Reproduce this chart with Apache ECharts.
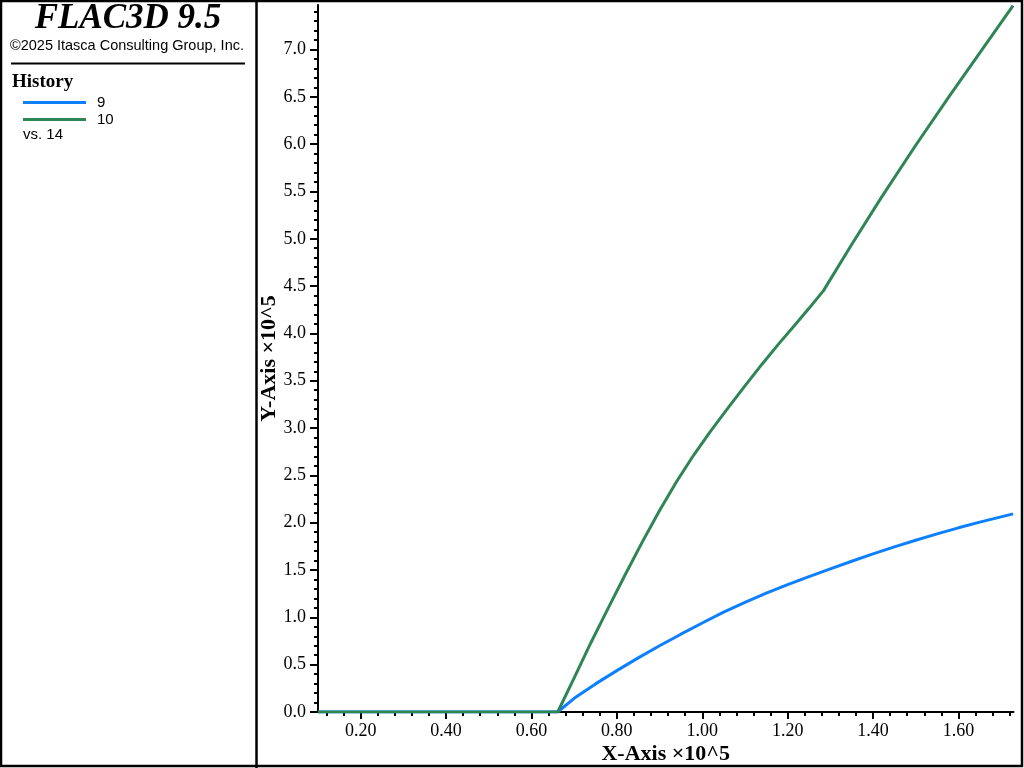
<!DOCTYPE html>
<html>
<head>
<meta charset="utf-8">
<script src="https://cdn.jsdelivr.net/npm/echarts@6/dist/echarts.min.js"></script>
<style>html,body{margin:0;padding:0;background:#fff;}#c{width:1024px;height:768px;}</style>
</head>
<body>
<div id="c"></div>
<script>
// ---- data (x in units of 1e5, y in units of 1e5) ----
const seriesNames = ['9', '10'];
const xHist9  = [0.10, 0.6615, 0.70, 0.75, 0.80, 0.85, 0.90, 0.95, 1.00, 1.05, 1.10, 1.15, 1.20, 1.25, 1.30, 1.35, 1.40, 1.45, 1.50, 1.55, 1.60, 1.65, 1.70, 1.728];
const yHist9  = [0.00, 0.00, 0.145, 0.297, 0.437, 0.572, 0.70, 0.822, 0.94, 1.055, 1.158, 1.255, 1.345, 1.431, 1.513, 1.593, 1.670, 1.745, 1.815, 1.882, 1.946, 2.006, 2.062, 2.093];
const xHist10 = [0.10, 0.6615, 0.70, 0.74, 0.78, 0.82, 0.86, 0.90, 0.94, 0.98, 1.02, 1.06, 1.10, 1.14, 1.18, 1.22, 1.25, 1.284, 1.35, 1.42, 1.50, 1.58, 1.65, 1.728];
const yHist10 = [0.00, 0.00, 0.36, 0.74, 1.10, 1.455, 1.80, 2.13, 2.435, 2.715, 2.97, 3.21, 3.445, 3.675, 3.895, 4.105, 4.265, 4.452, 4.94, 5.44, 5.988, 6.516, 6.964, 7.463];
const xMajorTicks = [0.2, 0.4, 0.6, 0.8, 1.0, 1.2, 1.4, 1.6];
const xTickLabels = ['0.20', '0.40', '0.60', '0.80', '1.00', '1.20', '1.40', '1.60'];
const yMajorTicks = [0, 0.5, 1, 1.5, 2, 2.5, 3, 3.5, 4, 4.5, 5, 5.5, 6, 6.5, 7];
const yTickLabels = ['0.0','0.5','1.0','1.5','2.0','2.5','3.0','3.5','4.0','4.5','5.0','5.5','6.0','6.5','7.0'];
const xMin = 0.1, xMax = 1.729, yMin = 0, yMax = 7.47;

const xMinorTicks = [];
for (let k = 3; k <= 43; k++) { const v = +(k * 0.04).toFixed(2); if (v > xMin && v < xMax && Math.abs(v / 0.2 - Math.round(v / 0.2)) > 1e-6) xMinorTicks.push(v); }
const yMinorTicks = [];
for (let k = 1; k <= 74; k++) { const v = +(k * 0.1).toFixed(1); if (v < yMax && Math.abs(v / 0.5 - Math.round(v / 0.5)) > 1e-6) yMinorTicks.push(v); }

const zip = (xs, ys) => xs.map((x, i) => [x, ys[i]]);
const serif = 'Liberation Serif';
const sans = 'Liberation Sans';

const chart = echarts.init(document.getElementById('c'), null, {renderer: 'canvas'});
chart.setOption({
  animation: false,
  backgroundColor: '#fff',
  grid: {left: 318, right: 10.5, top: 5, bottom: 56, containLabel: false, outerBoundsMode: 'none'},
  legend: {
    orient: 'vertical', left: 18, top: 90, itemWidth: 63, itemHeight: 3, itemGap: 2,
    icon: 'rect', data: seriesNames,
    textStyle: {fontFamily: sans, fontSize: 15, color: '#000', padding: [0, 0, 0, 6]}
  },
  xAxis: [{
    type: 'value', min: xMin, max: xMax,
    name: 'X-Axis ×10^5', nameLocation: 'middle', nameGap: 31.5, nameMoveOverlap: false,
    nameTextStyle: {fontFamily: serif, fontWeight: 'bold', fontSize: 22, color: '#000'},
    axisLine: {show: true, lineStyle: {color: '#000', width: 2}},
    axisTick: {show: true, length: 7, lineStyle: {color: '#000', width: 2}, customValues: xMajorTicks},
    axisLabel: {show: true, margin: 10.5, fontFamily: serif, fontSize: 18, color: '#000', customValues: xMajorTicks,
      formatter: v => { const i = xMajorTicks.findIndex(t => Math.abs(t - v) < 1e-6); return i >= 0 ? xTickLabels[i] : ''; }},
    splitLine: {show: false}
  }, {
    type: 'value', min: xMin, max: xMax, position: 'bottom',
    axisLine: {show: false},
    axisTick: {show: true, length: 4, lineStyle: {color: '#000', width: 2}, customValues: xMinorTicks},
    axisLabel: {show: false}, splitLine: {show: false}
  }],
  yAxis: [{
    type: 'value', min: yMin, max: yMax,
    name: 'Y-Axis ×10^5', nameLocation: 'middle', nameGap: 37.5, nameMoveOverlap: false,
    nameTextStyle: {fontFamily: serif, fontWeight: 'bold', fontSize: 22, color: '#000'},
    axisLine: {show: true, lineStyle: {color: '#000', width: 2}},
    axisTick: {show: true, length: 8, lineStyle: {color: '#000', width: 2}, customValues: yMajorTicks},
    axisLabel: {show: true, margin: 12, fontFamily: serif, fontSize: 18, color: '#000', customValues: yMajorTicks,
      formatter: v => { const i = yMajorTicks.findIndex(t => Math.abs(t - v) < 1e-6); return i >= 0 ? yTickLabels[i] : ''; }},
    splitLine: {show: false}
  }, {
    type: 'value', min: yMin, max: yMax, position: 'left',
    axisLine: {show: false},
    axisTick: {show: true, length: 4, lineStyle: {color: '#000', width: 2}, customValues: yMinorTicks},
    axisLabel: {show: false}, splitLine: {show: false}
  }],
  series: [{
    name: seriesNames[0], type: 'line', xAxisIndex: 0, yAxisIndex: 0,
    data: zip(xHist9, yHist9), showSymbol: false, symbol: 'none',
    lineStyle: {color: '#0c80ff', width: 3}, itemStyle: {color: '#0c80ff'}
  }, {
    name: seriesNames[1], type: 'line', xAxisIndex: 0, yAxisIndex: 0,
    data: zip(xHist10, yHist10), showSymbol: false, symbol: 'none',
    lineStyle: {color: '#2e8555', width: 3}, itemStyle: {color: '#2e8555'}
  }],
  graphic: [
    {type: 'rect', shape: {x: 1, y: 1, width: 1021, height: 765}, style: {fill: 'none', stroke: '#000', lineWidth: 2.5}, silent: true},
    {type: 'line', shape: {x1: 256.5, y1: 0, x2: 256.5, y2: 768}, style: {stroke: '#000', lineWidth: 2.5}, silent: true},
    {type: 'text', style: {text: 'FLAC3D 9.5', x: 128, y: 19, align: 'center', verticalAlign: 'middle',
      font: 'italic bold 35px "Liberation Serif"', fill: '#000'}},
    {type: 'text', style: {text: '©2025 Itasca Consulting Group, Inc.', x: 127, y: 46, align: 'center', verticalAlign: 'middle',
      font: '14.5px "Liberation Sans"', fill: '#000'}},
    {type: 'line', shape: {x1: 11, y1: 63.5, x2: 245, y2: 63.5}, style: {stroke: '#000', lineWidth: 2}},
    {type: 'text', style: {text: 'History', x: 12, y: 82, align: 'left', verticalAlign: 'middle',
      font: 'bold 19px "Liberation Serif"', fill: '#000'}},
    {type: 'text', style: {text: 'vs. 14', x: 23, y: 135, align: 'left', verticalAlign: 'middle',
      font: '15px "Liberation Sans"', fill: '#000'}}
  ]
});
</script>
</body>
</html>
